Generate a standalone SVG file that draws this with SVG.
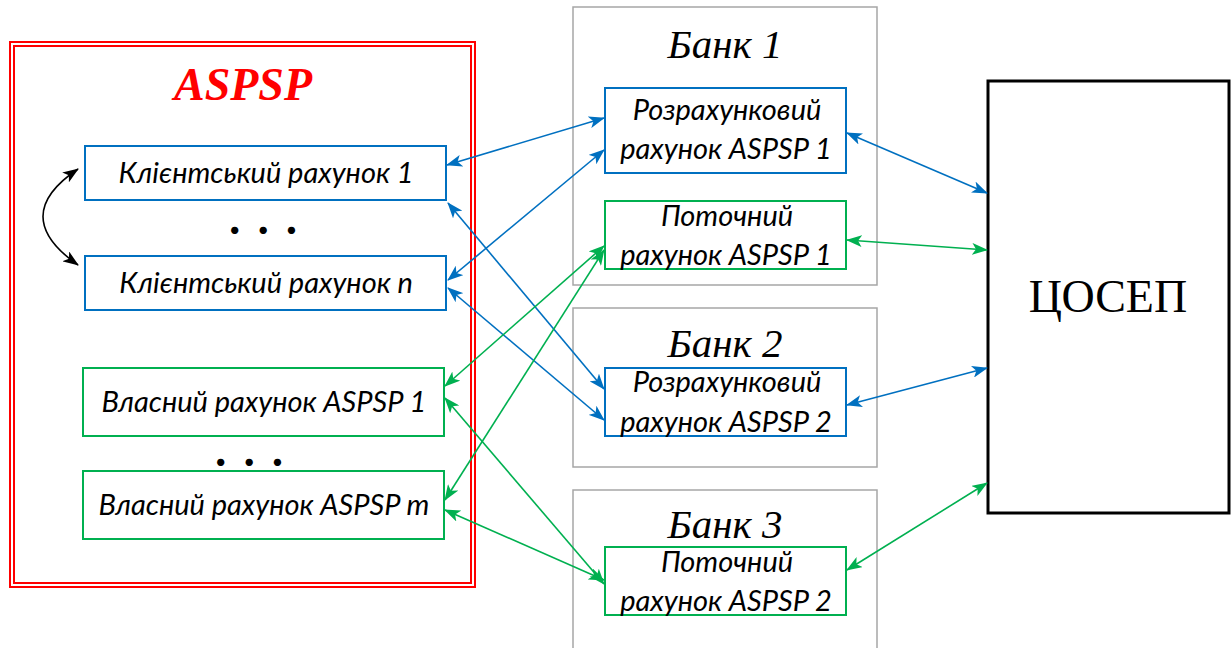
<svg xmlns="http://www.w3.org/2000/svg" width="1232" height="648" viewBox="0 0 1232 648">
<style>
.t{font-family:Lato,"Liberation Sans",sans-serif;font-style:italic;font-size:29px;fill:#000;text-anchor:middle}
.bank{font-family:"Liberation Serif",serif;font-style:italic;font-size:41px;fill:#000;text-anchor:middle}
.blue{fill:#fff;stroke:#0070C0;stroke-width:2}
.green{fill:#fff;stroke:#00B050;stroke-width:2}
.gray{fill:#fff;stroke:#A6A6A6;stroke-width:1.5}
.cb{stroke:#0070C0;stroke-width:1.6;fill:none;marker-start:url(#ab);marker-end:url(#ab)}
.cg{stroke:#00B050;stroke-width:1.6;fill:none;marker-start:url(#ag);marker-end:url(#ag)}
.dots{font-family:Lato,"Liberation Sans",sans-serif;font-weight:bold;font-size:48px;fill:#000}
</style>
<defs>
<marker id="ab" viewBox="0 0 16 12" refX="15" refY="6" markerWidth="16" markerHeight="12" markerUnits="userSpaceOnUse" orient="auto-start-reverse"><path d="M0 0 L16 6 L0 12 L4 6 Z" fill="#0070C0"/></marker>
<marker id="ag" viewBox="0 0 16 12" refX="15" refY="6" markerWidth="16" markerHeight="12" markerUnits="userSpaceOnUse" orient="auto-start-reverse"><path d="M0 0 L16 6 L0 12 L4 6 Z" fill="#00B050"/></marker>
<marker id="ak" viewBox="0 0 16 12" refX="15" refY="6" markerWidth="16" markerHeight="12" markerUnits="userSpaceOnUse" orient="auto-start-reverse"><path d="M0 0 L16 6 L0 12 L4 6 Z" fill="#000"/></marker>
</defs>
<rect width="1232" height="648" fill="#fff"/>

<g id="aspsp">
<rect x="10" y="42" width="465" height="545" fill="#fff" stroke="#FF0000" stroke-width="2"/>
<rect x="14" y="46" width="457" height="537" fill="none" stroke="#FF0000" stroke-width="2"/>
<text x="243" y="100" font-family="'Liberation Serif',serif" font-style="italic" font-weight="bold" font-size="46" fill="#FF0000" text-anchor="middle">ASPSP</text>
</g>

<g id="bank1">
<rect class="gray" x="573" y="7" width="304" height="278"/>
<text class="bank" x="725" y="58">Банк 1</text>
</g>
<g id="bank2">
<rect class="gray" x="573" y="308" width="304" height="159"/>
<text class="bank" x="725" y="357">Банк 2</text>
</g>
<g id="bank3">
<rect class="gray" x="573" y="490" width="304" height="170"/>
<text class="bank" x="725" y="538">Банк 3</text>
</g>

<g id="client1">
<rect class="blue" x="85" y="146" width="361" height="54"/>
<text class="t" x="266" y="183">Клієнтський рахунок 1</text>
</g>
<text class="dots" x="229" y="234" letter-spacing="17">...</text>
<g id="clientn">
<rect class="blue" x="85" y="256" width="361" height="54"/>
<text class="t" x="266" y="293">Клієнтський рахунок n</text>
</g>
<g id="own1">
<rect class="green" x="83" y="368" width="361" height="68"/>
<text class="t" x="264" y="412">Власний рахунок ASPSP 1</text>
</g>
<text class="dots" x="215" y="466" letter-spacing="17">...</text>
<g id="ownm">
<rect class="green" x="83" y="471" width="361" height="68"/>
<text class="t" x="264" y="515">Власний рахунок ASPSP m</text>
</g>

<g id="rozr1">
<rect class="blue" x="605" y="88" width="241" height="85"/>
<text class="t" x="727" y="120">Розрахунковий</text>
<text class="t" x="726" y="159">рахунок ASPSP 1</text>
</g>
<g id="potoch1">
<rect class="green" x="605" y="201" width="241" height="68"/>
<text class="t" x="727" y="226">Поточний</text>
<text class="t" x="726" y="265">рахунок ASPSP 1</text>
</g>
<g id="rozr2">
<rect class="blue" x="605" y="368" width="241" height="68"/>
<text class="t" x="727" y="392">Розрахунковий</text>
<text class="t" x="726" y="432">рахунок ASPSP 2</text>
</g>
<g id="potoch2">
<rect class="green" x="605" y="547" width="241" height="68"/>
<text class="t" x="727" y="572">Поточний</text>
<text class="t" x="726" y="611">рахунок ASPSP 2</text>
</g>

<g id="cosep">
<rect x="988" y="81" width="241" height="432" fill="#fff" stroke="#000" stroke-width="3"/>
<text x="1108" y="312" font-family="'Liberation Serif',serif" font-size="46" fill="#000" text-anchor="middle">ЦОСЕП</text>
</g>

<g id="connectors">
<path class="cb" d="M447 165 L604 118"/>
<path class="cb" d="M448 280 L604 150"/>
<path class="cb" d="M448 203 L604 389"/>
<path class="cb" d="M448 288 L604 420"/>
<path class="cb" d="M847 133 L987 193"/>
<path class="cb" d="M847 405 L987 368"/>
<path class="cg" d="M847 240 L987 250"/>
<path class="cg" d="M847 570 L987 483"/>
<path class="cg" d="M445 386 L604 246"/>
<path class="cg" d="M445 500 L604 250"/>
<path class="cg" d="M445 398 L604 584"/>
<path class="cg" d="M445 510 L604 580"/>
<path d="M78 169 Q8 216 78 265" fill="none" stroke="#000" stroke-width="1.6" marker-start="url(#ak)" marker-end="url(#ak)"/>
</g>
</svg>
